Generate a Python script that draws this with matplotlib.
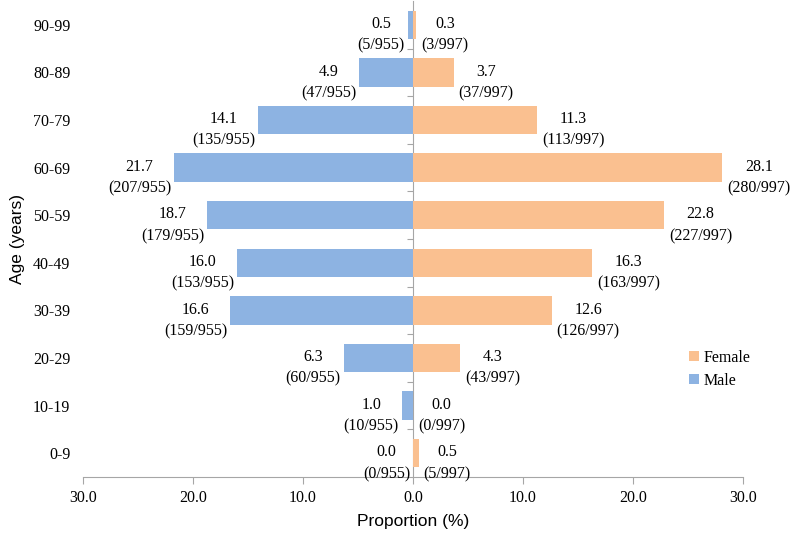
import numpy as np
import matplotlib.pyplot as plt
from matplotlib.ticker import FixedLocator, NullFormatter

# Data (bottom to top)
age_groups = ["0-9", "10-19", "20-29", "30-39", "40-49", "50-59", "60-69", "70-79", "80-89", "90-99"]
male_pct = [0.0, 1.0, 6.3, 16.6, 16.0, 18.7, 21.7, 14.1, 4.9, 0.5]
female_pct = [0.5, 0.0, 4.3, 12.6, 16.3, 22.8, 28.1, 11.3, 3.7, 0.3]
male_n = [0, 10, 60, 159, 153, 179, 207, 135, 47, 5]
female_n = [5, 0, 43, 126, 163, 227, 280, 113, 37, 3]
male_total = 955
female_total = 997
x_ticks = [-30, -20, -10, 0, 10, 20, 30]

BLUE = "#8DB3E2"
ORANGE = "#FAC090"
GREY = "#A6A6A6"
SERIF = "Liberation Serif"
SANS = "Liberation Sans"
FS = 11.5

fig = plt.figure(figsize=(7.9, 5.37), dpi=100)
ax = fig.add_axes([83 / 790, 60 / 537, 660 / 790, 476 / 537])

y = np.arange(len(age_groups))
male_vals = -np.array(male_pct)
ax.barh(y, male_vals, height=0.6, color=BLUE, label="Male")
ax.barh(y, female_pct, height=0.6, color=ORANGE, label="Female")

# value labels
for yi, v, n in zip(y, male_pct, male_n):
    ax.annotate(f"{v:.1f}\n({n}/{male_total})", xy=(-v, yi), xytext=(-3, -10),
                textcoords="offset pixels", ha="right", va="center",
                multialignment="center", fontsize=FS, family=SERIF,
                linespacing=1.45)
for yi, v, n in zip(y, female_pct, female_n):
    ax.annotate(f"{v:.1f}\n({n}/{female_total})", xy=(v, yi), xytext=(5, -10),
                textcoords="offset pixels", ha="left", va="center",
                multialignment="center", fontsize=FS, family=SERIF,
                linespacing=1.45)

ax.set_xlim(-30, 30)
ax.set_ylim(-0.5, len(age_groups) - 0.5)
ax.set_xticks(x_ticks)
ax.set_xticklabels([f"{abs(t):.1f}" for t in x_ticks], fontsize=FS, family=SERIF)
ax.set_yticks(y)
ax.set_yticklabels(age_groups, fontsize=FS, family=SERIF)
ax.tick_params(axis="y", length=0, pad=9)
ax.tick_params(axis="x", length=5, color=GREY, pad=4)

for side in ["left", "right", "top"]:
    ax.spines[side].set_visible(False)
ax.spines["bottom"].set_color(GREY)

# centre axis with boundary ticks
sec = ax.secondary_yaxis(0.5)
sec.set_alignment("left")
sec.yaxis.set_major_locator(FixedLocator(list(np.arange(0.5, len(age_groups) - 0.5, 1.0))))
sec.yaxis.set_major_formatter(NullFormatter())
sec.tick_params(length=4, color=GREY, direction="out")
for s in sec.spines.values():
    s.set_color(GREY)

ax.set_xlabel("Proportion (%)", fontsize=12.5, family=SANS, labelpad=6)
ax.set_ylabel("Age (years)", fontsize=12.5, family=SANS, labelpad=6)

handles, labels = ax.get_legend_handles_labels()
ax.legend(handles[::-1], labels[::-1], loc="lower right", bbox_to_anchor=(1.033, 0.155),
          frameon=False, prop={"family": SERIF, "size": FS},
          handlelength=0.6, handleheight=0.6, handletextpad=0.3, labelspacing=0.45)

fig.savefig("out.png", dpi=100)
